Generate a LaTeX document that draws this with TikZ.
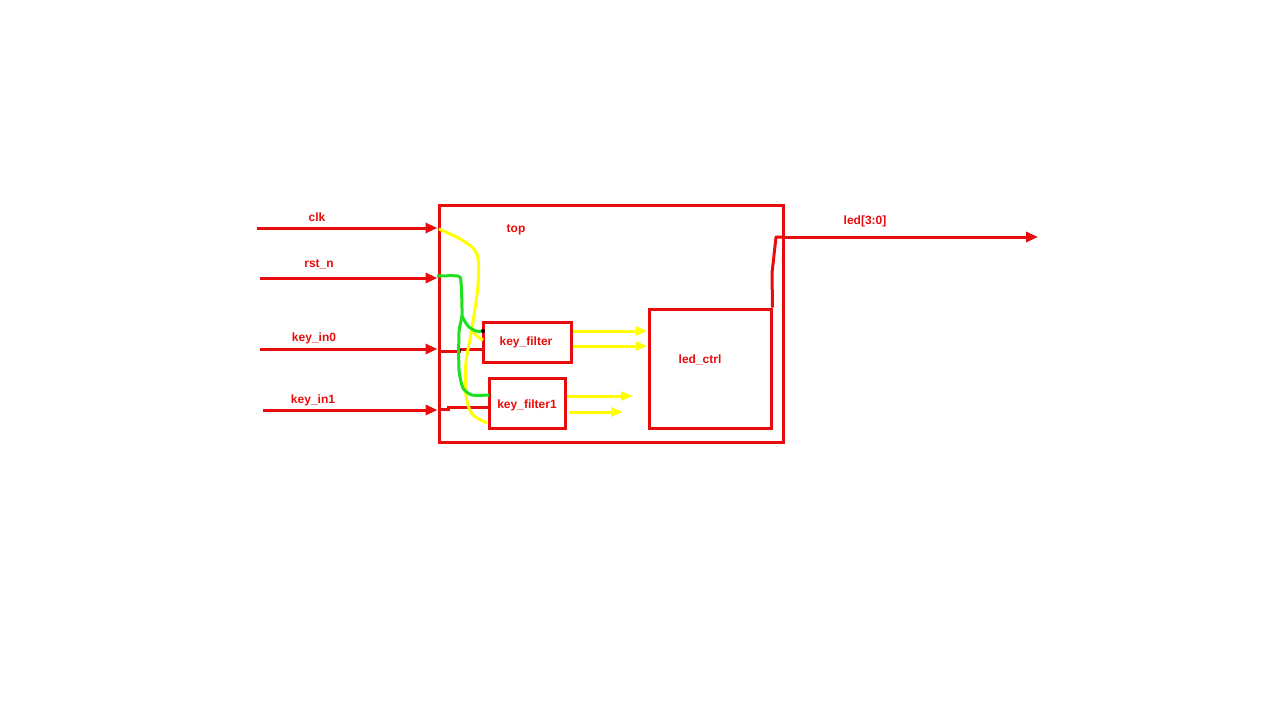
\documentclass[tikz,border=0pt]{standalone}
\usepackage{fontspec}
\setmainfont{Liberation Sans}
\usetikzlibrary{arrows.meta}
\definecolor{wirered}{RGB}{232,12,12}
\definecolor{wireyellow}{RGB}{255,255,0}
\definecolor{wiregreen}{RGB}{30,225,30}
\begin{document}
\begin{tikzpicture}[x=0.5pt,y=-0.5pt,
  lbl/.style={text=wirered,font=\fontsize{6}{7}\selectfont\bfseries,inner sep=0pt},
  blk/.style={draw=wirered,line width=1.5pt,inner sep=0pt},
  redw/.style={draw=wirered,line width=1.5pt},
  yelw/.style={draw=wireyellow,line width=1.5pt,line join=round},
  grnw/.style={draw=wiregreen,line width=1.5pt,line join=round},
  tipr/.style={-{Triangle[length=6pt,width=5pt]}},
  tipy/.style={-{Triangle[length=6pt,width=4.5pt]}}]
\useasboundingbox (0,0) rectangle (1280,720);

% module boxes
\node[blk,minimum width=172pt,minimum height=118.5pt] (top) at (611,323.5) {};
\node[blk,minimum width=44pt,minimum height=20pt] (kf0) at (527,342) {};
\node[blk,minimum width=38pt,minimum height=25pt] (kf1) at (527,403) {};
\node[blk,minimum width=61pt,minimum height=59.5pt] (led) at (710,368.5) {};

% box titles
\node[lbl] (ttop) at (516,230) {top};
\node[lbl] (tkf0) at (526,342) {key\_filter};
\node[lbl] (tkf1) at (527,405) {key\_filter1};
\node[lbl] (tled) at (700,360) {led\_ctrl};

% input ports
\coordinate (clkin) at (257,228);
\coordinate (rstin) at (260,278);
\coordinate (k0in) at (260,349);
\coordinate (k1in) at (263,410);
\node[lbl] (lclk) at (317,217) {clk};
\node[lbl] (lrst) at (319,264) {rst\_n};
\node[lbl] (lk0) at (314,338) {key\_in0};
\node[lbl] (lk1) at (313,400) {key\_in1};
\draw[redw,tipr] (clkin) -- (clkin -| top.west);
\draw[redw,tipr] (rstin) -- (rstin -| top.west);
\draw[redw,tipr] (k0in) -- (k0in -| top.west);
\draw[redw,tipr] (k1in) -- (k1in -| top.west);

% output port
\coordinate (ledout) at (1038,237);
\node[lbl] (lled) at (865,221) {led[3:0]};
\draw[redw,tipr] (ledout -| top.east) -- (ledout);
\draw[redw,line join=round] (led.north east) -- (772,273) -- (776,237) -- (ledout -| top.east);

% key inputs into the filters
\coordinate (k0a) at (439,351);
\coordinate (k1a) at (439,409);
\draw[redw] (k0a) -- (459,351) -- (459,349) -- (kf0.west |- 0,349);
\draw[redw] (k1a) -- (448,409) -- (448,407) -- (kf1.west |- 0,407);
\fill[black] (459,350) circle (1pt);

% clock distribution
\draw[yelw] plot[smooth,tension=0.5] coordinates {(439,229) (462,240) (477,254) (478,285) (472,328) (466,362) (466,395) (472,414) (487,423)};
\draw[yelw] plot[smooth,tension=0.6] coordinates {(472,330) (477,336) (483,340)};

% reset distribution
\draw[grnw] plot[smooth,tension=0.4] coordinates {(437,276) (458,276) (461,282) (462,315) (459,332) (459,370) (463,388) (472,395) (489,395)};
\draw[grnw] plot[smooth,tension=0.5] coordinates {(462,316) (468,326) (476,331) (483,331)};
\fill[black] (483,331) circle (1pt);

% filter outputs
\draw[yelw,tipy] (kf0.east |- 0,331) -- (led.west |- 0,331);
\draw[yelw,tipy] (kf0.east |- 0,346) -- (led.west |- 0,346);
\draw[yelw,tipy] (kf1.east |- 0,396) -- (633,396);
\draw[yelw,tipy] (569,412) -- (623,412);
\end{tikzpicture}
\end{document}
